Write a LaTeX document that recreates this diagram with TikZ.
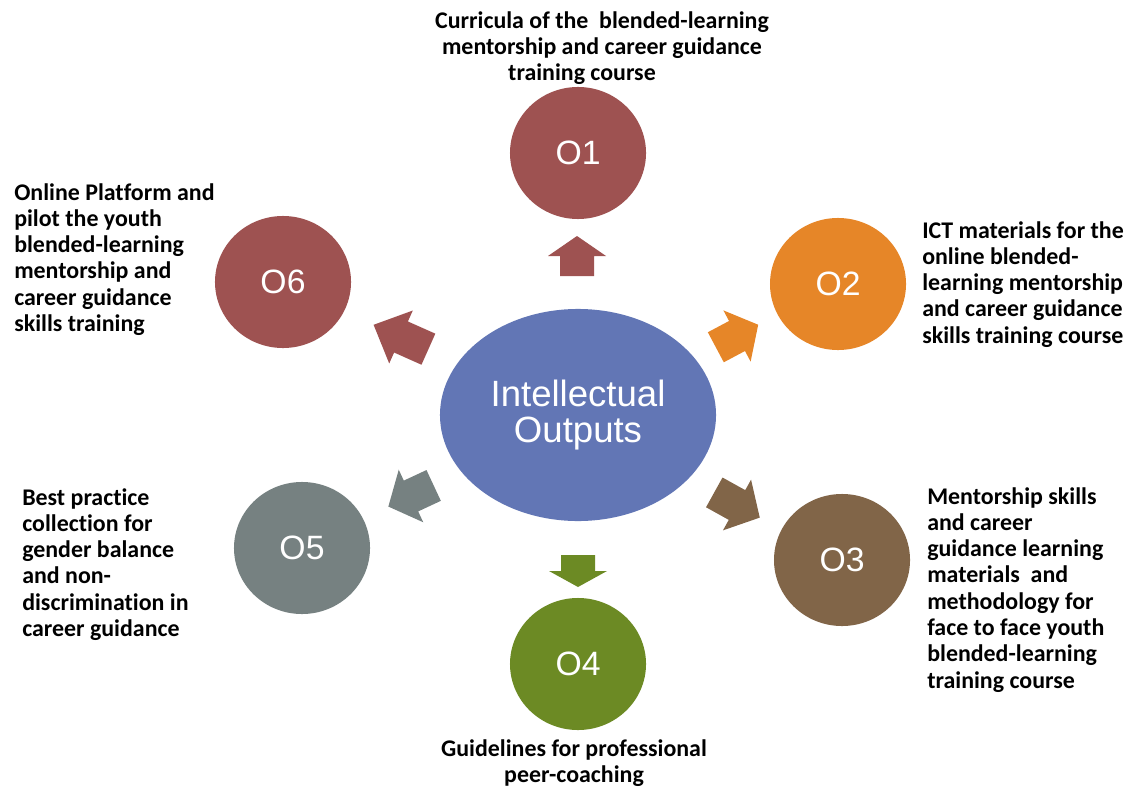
\documentclass[tikz,border=0pt]{standalone}
\usepackage{fontspec}
\setmainfont{Carlito}[Ligatures=NoCommon]
\newfontfamily\circfont{Liberation Sans}
\usepackage{tikz}
\usetikzlibrary{shapes.geometric}

\definecolor{outred}{RGB}{158,82,81}
\definecolor{outorange}{RGB}{230,134,40}
\definecolor{outbrown}{RGB}{129,101,72}
\definecolor{outgreen}{RGB}{108,138,36}
\definecolor{outgrey}{RGB}{118,129,129}
\definecolor{outblue}{RGB}{98,118,181}

\begin{document}
\begin{tikzpicture}[x=0.025cm, y=-0.025cm,
		output/.style={ellipse, inner sep=0pt, minimum width=3.4cm, minimum height=3.3cm, text=white, font=\circfont\fontsize{24}{26}\selectfont},
		outtext/.style={inner sep=0pt, anchor=north west, align=left, font=\bfseries\fontsize{17}{18.7}\selectfont},
		pics/outarrow/.style={code={\fill (-20,-17) -- (0,-17) -- (0,-29) -- (20,0) -- (0,29) -- (0,17) -- (-20,17) -- cycle;}}]
	
	\useasboundingbox (0,0) rectangle (1128,787);
	
	\node[ellipse, fill=outblue, inner sep=0pt, minimum width=6.9cm, minimum height=5.3cm, text=white, align=center, font=\circfont\fontsize{26}{25.6}\selectfont] (io) at (578,415) {Intellectual\\Outputs};
	
	\node[output, fill=outred] (o1) at (578,153) {O1};
	\node[output, fill=outorange] (o2) at (838,284) {O2};
	\node[output, fill=outbrown] (o3) at (842,560) {O3};
	\node[output, fill=outgreen] (o4) at (578,664) {O4};
	\node[output, fill=outgrey] (o5) at (302,548) {O5};
	\node[output, fill=outred] (o6) at (283,282) {O6};
	
	\pic[fill=outred, rotate=90] (a1) at (577,256) {outarrow};
	\pic[fill=outorange, rotate=28, xscale=1.2] (a2) at (737,336) {outarrow};
	\pic[fill=outbrown, rotate=-29, xscale=1.3] (a3) at (737,505) {outarrow};
	\pic[fill=outgreen, rotate=-90, xscale=0.8] (a4) at (578,571) {outarrow};
	\pic[fill=outgrey, rotate=205, xscale=1.25] (a5) at (411,496) {outarrow};
	\pic[fill=outred, rotate=156, xscale=1.5] (a6) at (401,337) {outarrow};
	
	\node[outtext, anchor=north, align=center] (t1) at (602,11) {Curricula of the\ \ blended-learning\\mentorship and career guidance\\\hspace*{-1cm}training course};
	\node[outtext] (t2) at (922,221) {ICT materials for the\\online blended-\\learning mentorship\\and career guidance\\skills training course};
	\node[outtext] (t3) at (927,487) {Mentorship skills\\and career\\guidance learning\\materials\ \ and\\methodology for\\face to face youth\\blended-learning\\training course};
	\node[outtext, anchor=north, align=center] (t4) at (574,739) {Guidelines for professional\\peer-coaching};
	\node[outtext] (t5) at (22,488) {Best practice\\collection for\\gender balance\\and non-\\discrimination in\\career guidance};
	\node[outtext] (t6) at (14,183) {Online Platform and\\pilot the youth\\blended-learning\\mentorship and\\career guidance\\skills training};
\end{tikzpicture}
\end{document}
